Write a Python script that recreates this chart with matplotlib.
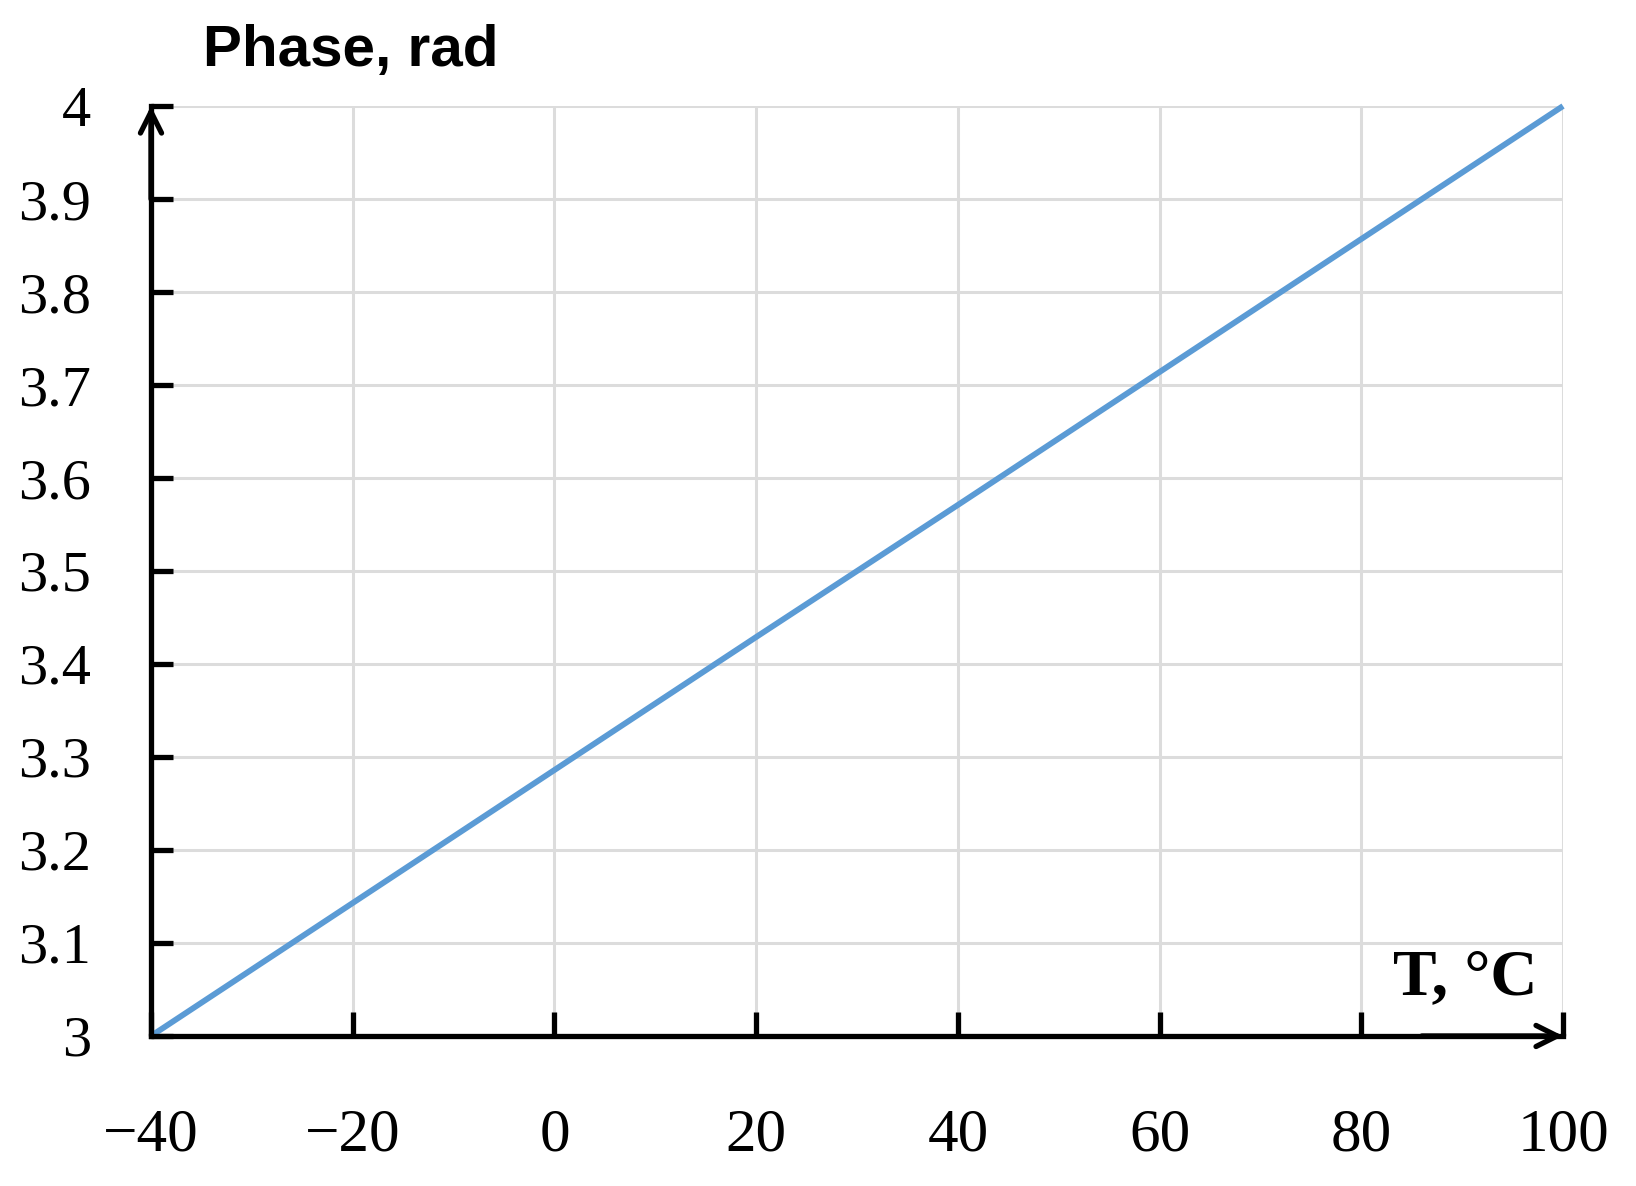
import matplotlib
matplotlib.use("Agg")
import matplotlib.pyplot as plt

# data
temp_c = [-40, -20, 0, 20, 40, 60, 80, 100]
phase_rad = [3.0, 3.143, 3.286, 3.429, 3.571, 3.714, 3.857, 4.0]

x_ticks = [-40, -20, 0, 20, 40, 60, 80, 100]
x_labels = ["\u221240", "\u221220", "0", "20", "40", "60", "80", "100"]
y_ticks = [3.0, 3.1, 3.2, 3.3, 3.4, 3.5, 3.6, 3.7, 3.8, 3.9, 4.0]
y_labels = ["3", "3.1", "3.2", "3.3", "3.4", "3.5", "3.6", "3.7", "3.8", "3.9", "4"]

SERIF = ["Liberation Serif", "DejaVu Serif"]
SANS = ["Liberation Sans", "DejaVu Sans"]

fig = plt.figure(figsize=(16.36, 11.86), dpi=100)
ax = fig.add_axes([0.0923, 0.1265, 0.8631, 0.7841])

ax.plot(temp_c, phase_rad, color="#5B9BD5", lw=4.2, solid_capstyle="butt",
        zorder=3, clip_on=False)

ax.set_xlim(-40, 100)
ax.set_ylim(3, 4)
ax.set_xticks(x_ticks)
ax.set_xticklabels(x_labels, fontfamily=SERIF, fontsize=44)
ax.set_yticks(y_ticks)
ax.set_yticklabels(y_labels, fontfamily=SERIF, fontsize=42)

ax.grid(True, color="#dcdcdc", lw=2.2, zorder=0)
ax.set_axisbelow(True)

for s in ("top", "right"):
    ax.spines[s].set_visible(False)
for s in ("left", "bottom"):
    ax.spines[s].set_linewidth(3.8)
    ax.spines[s].set_color("black")
    ax.spines[s].set_zorder(4)

ax.tick_params(axis="x", direction="in", length=17, width=3.8, pad=52)
ax.tick_params(axis="y", direction="in", length=16, width=3.8, pad=43)

# arrow heads at the axis ends
arrow = dict(arrowstyle="->", lw=3.8, color="black", mutation_scale=38,
             shrinkA=0, shrinkB=0)
ax.annotate("", xy=(0, 1.0), xytext=(0, 0.9), xycoords="axes fraction",
            arrowprops=arrow, annotation_clip=False)
ax.annotate("", xy=(1.0, 0), xytext=(0.9, 0), xycoords="axes fraction",
            arrowprops=arrow, annotation_clip=False)

fig.text(0.124, 0.957, "Phase, rad", fontfamily=SANS, fontweight="bold",
         fontsize=42, ha="left", va="center")
ax.text(0.982, 0.03, "T, \u00b0C", transform=ax.transAxes, fontfamily=SERIF,
        fontweight="bold", fontsize=47, ha="right", va="bottom")

fig.savefig("out.png", dpi=100, facecolor="white")
